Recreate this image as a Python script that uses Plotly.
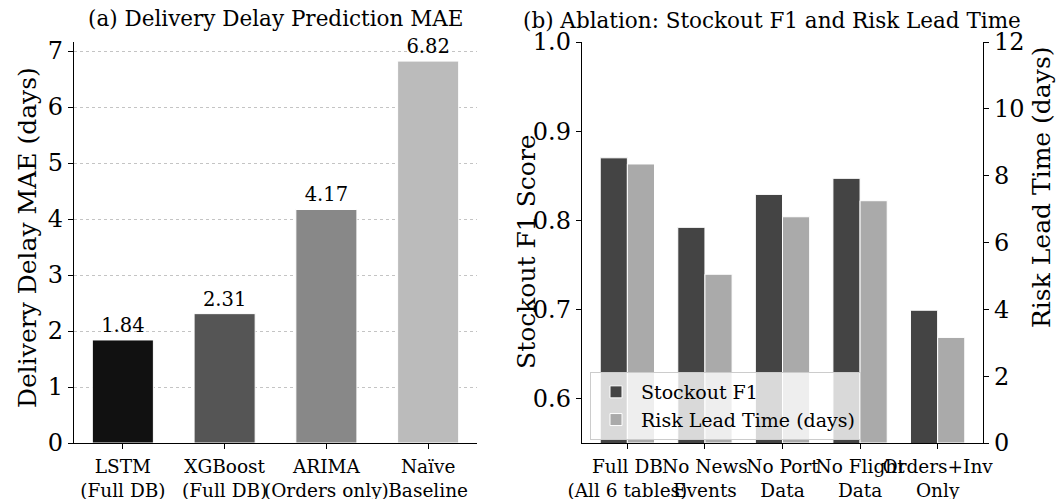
import plotly.graph_objects as go

# ---- data ----
models = ["LSTM<br>(Full DB)", "XGBoost<br>(Full DB)", "ARIMA<br>(Orders only)", "Naïve<br>Baseline"]
mae_values = [1.84, 2.31, 4.17, 6.82]
model_colors = ["#111111", "#555555", "#888888", "#bbbbbb"]

variants = ["Full DB<br>(All 6 tables)", "No News<br>Events", "No Port<br>Data", "No Flight<br>Data", "Orders+Inv<br>Only"]
stockout_f1 = [0.87, 0.792, 0.829, 0.847, 0.699]
lead_time_days = [8.35, 5.05, 6.77, 7.25, 3.16]

FONT = "DejaVu Serif"
W, H = 1058, 499

def px_x(p):
    return p / W

def px_y(p):
    return 1 - p / H

fig = go.Figure()

# (a) MAE bars
fig.add_trace(go.Bar(
    x=models, y=mae_values, xaxis="x", yaxis="y",
    marker=dict(color=model_colors, line=dict(color="white", width=1)),
    width=0.6,
    text=[f"{v:.2f}" for v in mae_values], textposition="outside",
    textfont=dict(family=FONT, size=19.5, color="black"),
    cliponaxis=False, showlegend=False,
))

# (b) ablation bars
fig.add_trace(go.Bar(
    x=variants, y=stockout_f1, xaxis="x2", yaxis="y2",
    name="Stockout F1",
    marker=dict(color="#444444", line=dict(color="white", width=1)),
    width=0.35, offset=-0.35,
))
fig.add_trace(go.Bar(
    x=variants, y=lead_time_days, xaxis="x2", yaxis="y3",
    name="Risk Lead Time (days)",
    marker=dict(color="#aaaaaa", line=dict(color="white", width=1)),
    width=0.35, offset=0.0,
))

axis_common = dict(
    showline=True, linecolor="black", linewidth=1.4,
    ticks="outside", ticklen=5, tickwidth=1.3, tickcolor="black",
    zeroline=False, automargin=False,
)

d1 = [px_x(74), px_x(477)]
d2 = [px_x(582), px_x(983)]
dy = [px_y(443), px_y(42)]

fig.update_layout(
    width=W, height=H,
    margin=dict(l=0, r=0, t=0, b=0, autoexpand=False),
    paper_bgcolor="white", plot_bgcolor="white",
    font=dict(family=FONT, color="black"),
    barmode="overlay",
    xaxis=dict(domain=d1, anchor="y", range=[-0.48, 3.48], showgrid=False, tickangle=0,
               tickfont=dict(size=18.5), ticklabelstandoff=2, **axis_common),
    yaxis=dict(domain=dy, anchor="x", range=[0, 7.161], tickvals=[0, 1, 2, 3, 4, 5, 6, 7],
               showgrid=True, gridcolor="#c4c4c4", griddash="dot", gridwidth=1,
               tickfont=dict(size=24), **axis_common),
    xaxis2=dict(domain=d2, anchor="y2", range=[-0.585, 4.585], showgrid=False, tickangle=0,
                tickfont=dict(size=18.5), ticklabelstandoff=2, **axis_common),
    yaxis2=dict(domain=dy, anchor="x2", range=[0.55, 1.0], tickvals=[0.6, 0.7, 0.8, 0.9, 1.0],
                ticktext=["0.6", "0.7", "0.8", "0.9", "1.0"],
                showgrid=False, tickfont=dict(size=24), **axis_common),
    yaxis3=dict(domain=dy, anchor="x2", overlaying="y2", side="right", range=[0, 12],
                tickvals=[0, 2, 4, 6, 8, 10, 12], showgrid=False,
                tickfont=dict(size=24), **axis_common),
    legend=dict(x=px_x(590), y=px_y(372), xanchor="left", yanchor="top",
                bgcolor="rgba(255,255,255,0.8)", bordercolor="#cccccc", borderwidth=1,
                font=dict(family=FONT, size=19), tracegroupgap=0, itemwidth=40),
    annotations=[
        dict(text="(a) Delivery Delay Prediction MAE", x=px_x(275), y=px_y(18),
             xanchor="center", yanchor="middle",
             xref="paper", yref="paper", showarrow=False, font=dict(size=21.5)),
        dict(text="(b) Ablation: Stockout F1 and Risk Lead Time", x=px_x(772), y=px_y(20),
             xanchor="center", yanchor="middle",
             xref="paper", yref="paper", showarrow=False, font=dict(size=21.5)),
        dict(text="Delivery Delay MAE (days)", x=px_x(27), y=px_y(238), textangle=-90,
             xanchor="center", yanchor="middle",
             xref="paper", yref="paper", showarrow=False, font=dict(size=25)),
        dict(text="Stockout F1 Score", x=px_x(527), y=px_y(252), textangle=-90,
             xanchor="center", yanchor="middle",
             xref="paper", yref="paper", showarrow=False, font=dict(size=25)),
        dict(text="Risk Lead Time (days)", x=px_x(1042), y=px_y(188), textangle=-90,
             xanchor="center", yanchor="middle",
             xref="paper", yref="paper", showarrow=False, font=dict(size=25)),
    ],
)

fig.write_html("out.html", config={"displayModeBar": False},
               post_script="document.body.style.margin='0';")
